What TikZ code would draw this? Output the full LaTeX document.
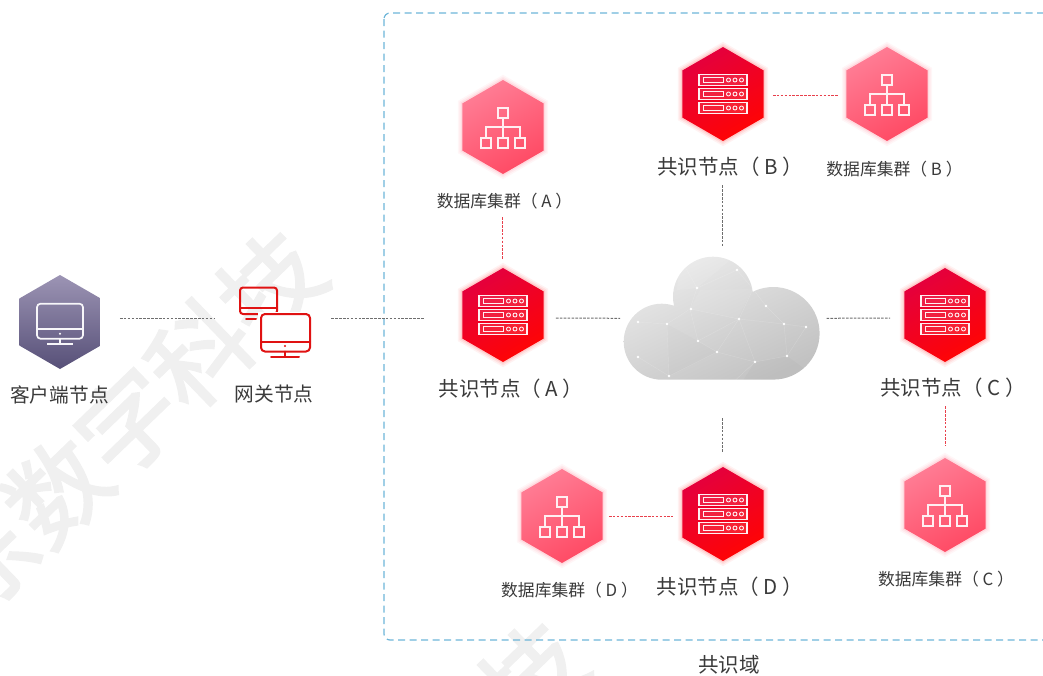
\documentclass[tikz,border=0pt]{standalone}
\usepackage{fontspec}
\setmainfont{Noto Sans CJK SC}
\newfontfamily\wmfont[FakeBold=2.4]{Noto Sans CJK SC}
\usetikzlibrary{shapes.geometric}
\definecolor{txt}{HTML}{3A3A3A}
\definecolor{wm}{HTML}{F0F0F0}
\definecolor{boxblue}{HTML}{6DB5D8}
\tikzset{
  hexbase/.style={regular polygon,regular polygon sides=6,shape border rotate=90,minimum size=94pt,inner sep=0pt},
  redhex/.style={hexbase,shading=axis,top color=HexRedA,bottom color=HexRedB,shading angle=30},
  dbhex/.style={hexbase,shading=axis,top color=HexDbA,bottom color=HexDbB,shading angle=30},
  purplehex/.style={hexbase,shading=axis,top color=HexPuA,bottom color=HexPuB},
  big/.style={text=txt,font=\fontsize{20.5}{24}\selectfont,inner sep=0pt},
  mid/.style={text=txt,font=\fontsize{19.7}{23}\selectfont,inner sep=0pt},
  small/.style={text=txt,font=\fontsize{16.8}{20}\selectfont,inner sep=0pt},
  greylink/.style={draw=LinkGrey,line width=1pt,dash pattern=on 2.6pt off 1.3pt},
  redlink/.style={draw=LinkRed,line width=1pt,dash pattern=on 2.6pt off 1.3pt},
  iconw/.style={draw=white!88!HexDbA,line width=1.3pt},
  iconp/.style={draw=white!92!HexPuA,line width=1.7pt},
  iconr/.style={draw=GateRed,line width=2pt,line cap=round},
  watermark/.style={text=wm,font=\wmfont\fontsize{99}{99}\selectfont,rotate=44,inner sep=0pt},
}
\definecolor{HexRedA}{HTML}{E4003E}
\definecolor{HexRedB}{HTML}{FF0404}
\definecolor{HexDbA}{HTML}{FF7D95}
\definecolor{HexDbB}{HTML}{FF4A64}
\definecolor{HexPuA}{HTML}{9C94B4}
\definecolor{HexPuB}{HTML}{575078}
\definecolor{LinkGrey}{HTML}{6E6E6E}
\definecolor{LinkRed}{HTML}{E8404C}
\definecolor{GateRed}{HTML}{E01212}
\newcommand\glowhex[3]{%
  \foreach \w/\o in {9/.05,6/.07,3/.10}{%
    \node[hexbase,draw=#3,line width=\w pt,draw opacity=\o] at (#1,#2) {};}}
\newcommand\servericon[2]{%
  \begin{scope}[shift={(#1,#2)}]
    \foreach \r in {-14,0,14}{%
      \draw[iconw,fill=white,fill opacity=.12] (-24,\r-5.5) rectangle (24,\r+5.5);
      \draw[iconw,line width=1pt] (-20,\r-2.5) rectangle (0,\r+2.5);
      \foreach \c in {5.5,12,18.5}{\draw[iconw,line width=.9pt] (\c,\r) circle (2pt);}
    }
  \end{scope}}
\newcommand\dbicon[2]{%
  \begin{scope}[shift={(#1,#2)}]
    \draw[iconw] (-5,-19) rectangle (5,-9);
    \draw[iconw] (0,-9) -- (0,0) (-17,11) -- (-17,0) -- (17,0) -- (17,11) (0,0) -- (0,11);
    \foreach \c in {-17,0,17}{\draw[iconw] (\c-5,11) rectangle (\c+5,21);}
  \end{scope}}
\begin{document}
\begin{tikzpicture}[x=1pt,y=-1pt]
\useasboundingbox (0,0) rectangle (1043,675);
\begin{scope}
\clip (0,0) rectangle (1043,675);
\node[watermark] (wm1) at (128,422) {东数字科技};
\node[watermark] (wm2) at (497,710) {科技};
\end{scope}
% domain box
\begin{scope}
\clip (0,0) rectangle (1043,675);
\draw[boxblue,line width=1.2pt,dash pattern=on 7pt off 4.5pt,rounded corners=6pt] (384,13) rectangle (1060,640);
\end{scope}
\node[big] (domainlabel) at (729,665) {共识域};
% cloud
\node[inner sep=0pt,minimum width=196pt,minimum height=123.3pt] (cloud) at (721.3,318.3) {};
\begin{scope}
\clip (661.7,341.7) circle (38) (773.3,333.3) circle (46.3) (713,296.7) circle (40)
  (661.7,379.7) -- (661.7,320) -- (773.3,320) -- (773.3,379.7) -- cycle;
\shade[top color=black!8,bottom color=black!24,shading angle=25] (623,256) rectangle (820,381);
\fill[white,opacity=.10] (677,290) -- (697,288) -- (737,254) -- (680,258) -- cycle;
\fill[white,opacity=.07] (690,309) -- (737,319) -- (753,289) -- (700,290) -- cycle;
\fill[black,opacity=.012] (667,324) -- (698,341) -- (717,352) -- (669,376) -- cycle;
\fill[black,opacity=.015] (755,362) -- (787,356) -- (820,380) -- (740,385) -- cycle;
\draw[white,opacity=.18,line width=.4pt]
 (667,324)--(638,322)--(638,357)--(669,376)--(667,324)--(690,309)--(697,288)--(737,270)--(753,289)--(739,319)--(690,309)
 (698,341)--(717,352)--(755,362)--(787,356)--(784,324)--(806,327)--(787,356)
 (739,319)--(784,324)--(766,306)--(753,289) (698,341)--(690,309) (698,341)--(739,319)--(717,352)--(669,376)
 (739,319)--(755,362)--(730,385) (697,288)--(680,258) (737,270)--(745,255);
\foreach \p in {(737,270),(697,288),(753,289),(691,309),(766,306),(739,319),(667,324),(638,322),(784,324),(806,327),(698,341),(717,352),(638,357),(755,362),(787,356),(669,376)}
  \fill[white] \p circle (1.3pt);
\end{scope}
% hexagons
\glowhex{503}{315}{HexRedB}\node[redhex] (A) at (503,315) {};
\glowhex{723}{94}{HexRedB}\node[redhex] (B) at (723,94) {};
\glowhex{945}{315}{HexRedB}\node[redhex] (C) at (945,315) {};
\glowhex{723}{514}{HexRedB}\node[redhex] (D) at (723,514) {};
\glowhex{503}{127}{HexDbB}\node[dbhex] (dbA) at (503,127) {};
\glowhex{887}{94}{HexDbB}\node[dbhex] (dbB) at (887,94) {};
\glowhex{945}{505}{HexDbB}\node[dbhex] (dbC) at (945,505) {};
\glowhex{562}{516}{HexDbB}\node[dbhex] (dbD) at (562,516) {};
\node[purplehex] (client) at (60,322) {};
\servericon{503}{315}\servericon{723}{94}\servericon{945}{315}\servericon{723}{514}
\dbicon{503}{127}\dbicon{887}{94}\dbicon{945}{505}\dbicon{562}{516}
% client icon
\begin{scope}[shift={(60,321.7)}]
\draw[iconp,rounded corners=3.5pt] (-23,-18) rectangle (23,17);
\draw[iconp] (-23,7) -- (23,7) (0,17) -- (0,22) (-13,22) -- (13,22);
\fill[white] (0,12) circle (1.2pt);
\end{scope}
% gateway icon
\node[inner sep=0pt,minimum width=71pt,minimum height=70pt] (gateway) at (274.5,321.5) {};
\draw[iconr,rounded corners=3pt] (240,287.5) rectangle (277,314);
\draw[iconr] (240,308) -- (277,308) (246,319) -- (256,319);
\fill[white] (258,312) rectangle (313,358);
\draw[iconr,rounded corners=4pt] (261,314) rectangle (310,351.5);
\draw[iconr] (261,341.5) -- (310,341.5) (285,351.5) -- (285,356) (271,356.5) -- (299,356.5);
\fill[GateRed] (285,346) circle (1.2pt);
% connectors
\draw[greylink] ([xshift=19pt,yshift=4pt]client.east) -- ([xshift=-24pt,yshift=3.5pt]gateway.west);
\draw[greylink] ([xshift=21pt,yshift=3.5pt]gateway.east) -- ([xshift=-38pt,yshift=-3pt]A.west);
\draw[greylink] ([xshift=12pt,yshift=-3pt]A.east) -- ([xshift=-3pt]cloud.west);
\draw[greylink] ([xshift=7pt]cloud.east) -- ([xshift=-14pt,yshift=-3pt]C.west);
\draw[greylink] ([yshift=-44pt,xshift=-1pt]B.south) -- ([yshift=10pt,xshift=.7pt]cloud.north);
\draw[greylink] ([yshift=-38pt,xshift=.7pt]cloud.south) -- ([yshift=15pt,xshift=-1pt]D.north);
\draw[redlink] ([yshift=-43pt,xshift=-1pt]dbA.south) -- ([yshift=9pt,xshift=-1pt]A.north);
\draw[redlink] ([xshift=9pt,yshift=-1pt]B.east) -- ([xshift=-8pt,yshift=-1pt]dbB.west);
\draw[redlink] ([yshift=-44pt]C.south) -- ([yshift=12pt]dbC.north);
\draw[redlink] ([xshift=6pt]dbD.east) -- ([xshift=-9pt,yshift=-2pt]D.west);
% labels
\node[big] (lA) at (511,389) {共识节点（ A ）};
\node[big] (lB) at (730,167) {共识节点（ B ）};
\node[big] (lC) at (953,388) {共识节点（ C ）};
\node[big] (lD) at (730,587) {共识节点（ D ）};
\node[small] (ldA) at (504.5,201) {数据库集群（ A ）};
\node[small] (ldB) at (894.5,169) {数据库集群（ B ）};
\node[small] (ldC) at (946,579) {数据库集群（ C ）};
\node[small] (ldD) at (569.5,590) {数据库集群（ D ）};
\node[mid] (lclient) at (59.5,395) {客户端节点};
\node[mid] (lgate) at (274,394) {网关节点};
\end{tikzpicture}
\end{document}
